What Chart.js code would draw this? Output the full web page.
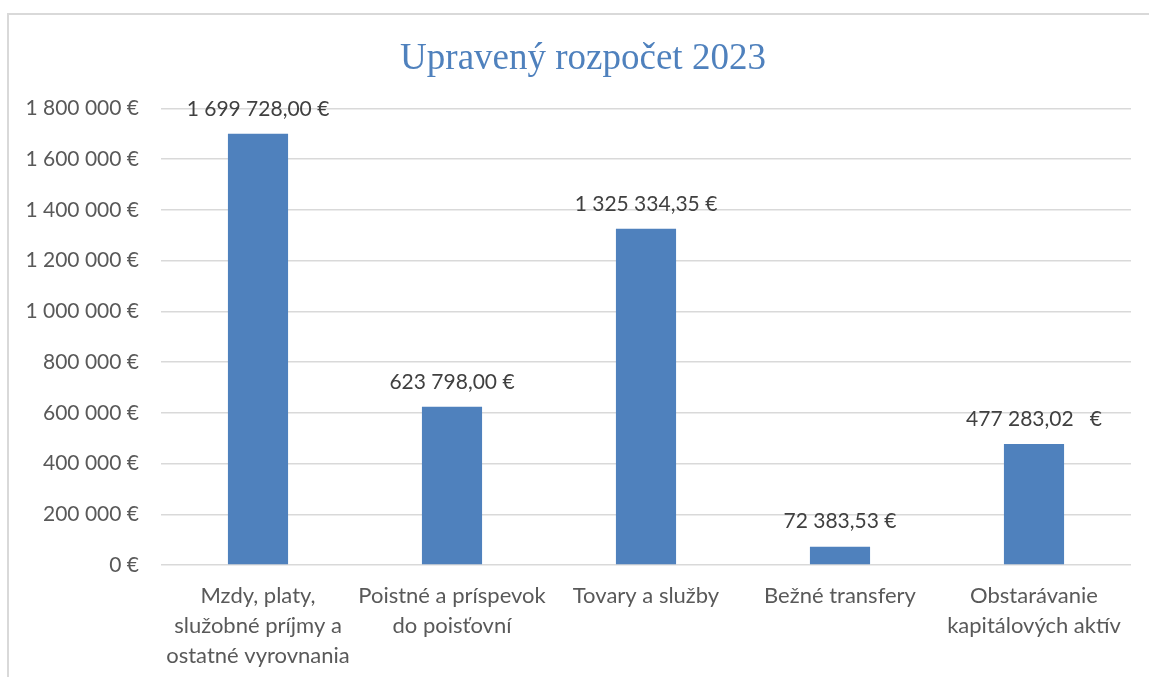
<!DOCTYPE html>
<html lang="sk">
<head>
  <meta charset="UTF-8" />
  <title>Upravený rozpočet 2023</title>
  <script src="https://cdn.jsdelivr.net/npm/chart.js"></script>
  <style>
    html, body { margin: 0; padding: 0; background: #fff; overflow: hidden; }
    #frame {
      position: absolute; left: 7px; top: 13px;
      border-top: 2px solid #d9d9d9; border-left: 2px solid #d9d9d9;
      width: 1150px; height: 662px;
    }
    canvas { display: block; }
  </style>
</head>
<body>
  <div id="frame"><canvas id="budget" width="1150" height="662"></canvas></div>

  <script>
    const categories = [
      ["Mzdy, platy,", "služobné príjmy a", "ostatné vyrovnania"],
      ["Poistné a príspevok", "do poisťovní"],
      ["Tovary a služby"],
      ["Bežné transfery"],
      ["Obstarávanie", "kapitálových aktív"]
    ];
    const amounts = [1699728.00, 623798.00, 1325334.35, 72383.53, 477283.02];
    const valueLabels = [
      "1 699 728,00 €",
      "623 798,00 €",
      "1 325 334,35 €",
      "72 383,53 €",
      "477 283,02   €"
    ];

    const blue = "#4f81bd";
    const grey = "#595959";

    // simple label-above-bar plugin (no datalabels plugin offline)
    const barValues = {
      id: "barValues",
      afterDatasetsDraw(chart) {
        const ctx = chart.ctx;
        const meta = chart.getDatasetMeta(0);
        ctx.save();
        ctx.font = "21px Lato";
        ctx.fillStyle = "#404040";
        ctx.textAlign = "center";
        ctx.textBaseline = "middle";
        meta.data.forEach((bar, i) => {
          ctx.fillText(valueLabels[i], bar.x, bar.y - 25);
        });
        ctx.restore();
      }
    };

    // left padding only there to centre the title; let y labels use it
    const widenY = {
      id: "widenY",
      afterLayout(chart) { chart.scales.y.left = 0; }
    };

    new Chart(document.getElementById("budget"), {
      type: "bar",
      data: {
        labels: categories,
        datasets: [{
          data: amounts,
          backgroundColor: blue,
          categoryPercentage: 1,
          barPercentage: 0.31
        }]
      },
      options: {
        responsive: false,
        animation: false,
        layout: { padding: { left: 26, right: 28, top: 0, bottom: 0 } },
        plugins: {
          legend: { display: false },
          tooltip: { enabled: false },
          title: {
            display: true,
            text: "Upravený rozpočet 2023",
            color: blue,
            font: { family: "'Liberation Serif', 'Times New Roman', serif", size: 37, weight: "normal" },
            padding: { top: 22, bottom: 27 }
          }
        },
        scales: {
          x: {
            grid: { display: false, drawTicks: false },
            border: { display: false },
            ticks: {
              color: grey,
              padding: 16,
              maxRotation: 0,
              autoSkip: false,
              font: { family: "Lato", size: 22, lineHeight: 1.36 }
            },
            afterFit(scale) { scale.height = 112; }
          },
          y: {
            min: 0,
            max: 1800000,
            grid: { color: "#d9d9d9", lineWidth: 1.5, drawTicks: false },
            border: { display: false },
            ticks: {
              stepSize: 200000,
              color: grey,
              padding: 22,
              font: { family: "Lato", size: 21 },
              callback: v => v.toLocaleString("en-US").replace(/,/g, " ") + " €"
            },
            afterFit(scale) { scale.width = 126; }
          }
        }
      },
      plugins: [barValues, widenY]
    });
  </script>
</body>
</html>
